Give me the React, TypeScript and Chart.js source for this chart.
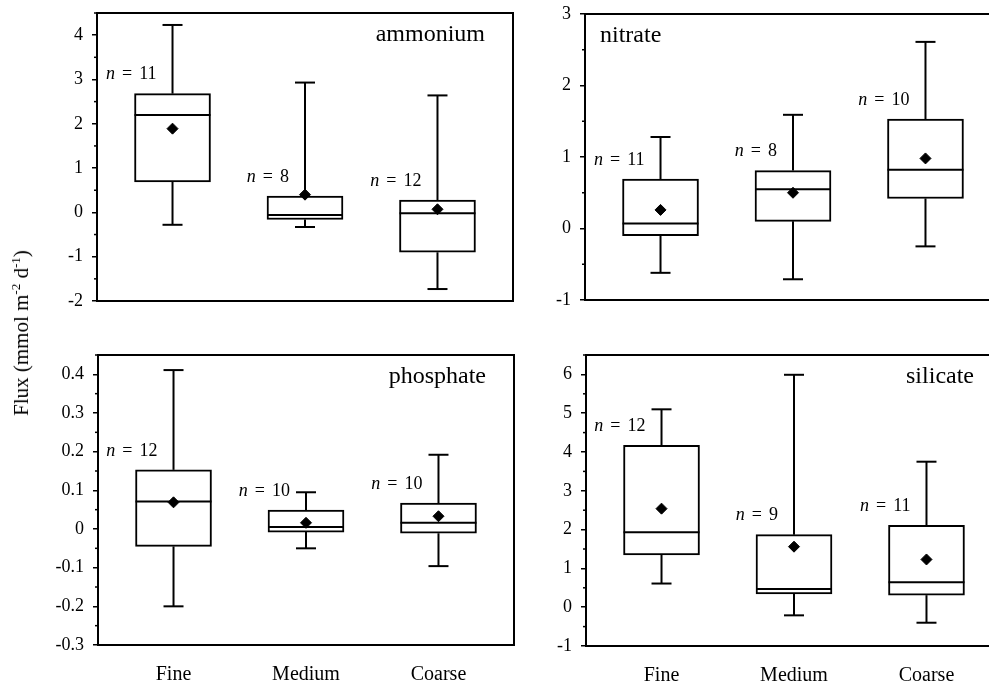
import React, { useEffect, useRef } from "react";
import { Chart, registerables } from "chart.js";

Chart.register(...registerables);

const FONT = '"Liberation Serif", "Times New Roman", Times, serif';
Chart.defaults.font.family = FONT;
Chart.defaults.color = "#000";

const categories = ["Fine", "Medium", "Coarse"];

// ammonium
const ammoniumMax = [4.23, 2.93, 2.64];
const ammoniumQ3 = [2.68, 0.37, 0.28];
const ammoniumMedian = [2.2, -0.06, -0.02];
const ammoniumQ1 = [0.69, -0.16, -0.9];
const ammoniumMin = [-0.28, -0.33, -1.73];
const ammoniumMean = [1.89, 0.4, 0.07];
const ammoniumN = [11, 8, 12];
const ammoniumTicks = [-2, -1, 0, 1, 2, 3, 4];

// nitrate
const nitrateMax = [1.28, 1.59, 2.61];
const nitrateQ3 = [0.69, 0.81, 1.53];
const nitrateMedian = [0.07, 0.55, 0.82];
const nitrateQ1 = [-0.1, 0.1, 0.42];
const nitrateMin = [-0.62, -0.71, -0.25];
const nitrateMean = [0.26, 0.5, 0.98];
const nitrateN = [11, 8, 10];
const nitrateTicks = [-1, 0, 1, 2, 3];

// phosphate
const phosphateMax = [0.411, 0.095, 0.192];
const phosphateQ3 = [0.153, 0.049, 0.067];
const phosphateMedian = [0.071, 0.005, 0.016];
const phosphateQ1 = [-0.045, -0.008, -0.011];
const phosphateMin = [-0.2, -0.05, -0.096];
const phosphateMean = [0.069, 0.016, 0.033];
const phosphateN = [12, 10, 10];
const phosphateTicks = [-0.3, -0.2, -0.1, 0, 0.1, 0.2, 0.3, 0.4];

// silicate
const silicateMax = [5.1, 5.99, 3.75];
const silicateQ3 = [4.17, 1.87, 2.11];
const silicateMedian = [1.93, 0.47, 0.64];
const silicateQ1 = [1.35, 0.34, 0.31];
const silicateMin = [0.61, -0.21, -0.4];
const silicateMean = [2.54, 1.56, 1.23];
const silicateN = [12, 9, 11];
const silicateTicks = [-1, 0, 1, 2, 3, 4, 5, 6];

type Panel = {
  key: string;
  title: string;
  titleAlign: "left" | "right";
  max: number[];
  q3: number[];
  median: number[];
  q1: number[];
  min: number[];
  mean: number[];
  n: number[];
  ticks: number[];
  yMin: number;
  yMax: number;
  left: number;
  top: number;
  w: number;
  h: number;
  padding: { top: number; right: number; bottom: number; left: number };
  yWidth: number;
  showX: boolean;
  xHeight: number;
};

const panels: Panel[] = [
  {
    key: "ammonium", title: "ammonium", titleAlign: "right",
    max: ammoniumMax, q3: ammoniumQ3, median: ammoniumMedian, q1: ammoniumQ1, min: ammoniumMin,
    mean: ammoniumMean, n: ammoniumN, ticks: ammoniumTicks, yMin: -2, yMax: 4.5,
    left: 0, top: 0, w: 530, h: 320, padding: { top: 13, right: 17, bottom: 19, left: 0 },
    yWidth: 97, showX: false, xHeight: 0,
  },
  {
    key: "nitrate", title: "nitrate", titleAlign: "left",
    max: nitrateMax, q3: nitrateQ3, median: nitrateMedian, q1: nitrateQ1, min: nitrateMin,
    mean: nitrateMean, n: nitrateN, ticks: nitrateTicks, yMin: -1, yMax: 3,
    left: 488, top: 0, w: 530, h: 320, padding: { top: 14, right: 17, bottom: 20, left: 0 },
    yWidth: 97, showX: false, xHeight: 0,
  },
  {
    key: "phosphate", title: "phosphate", titleAlign: "right",
    max: phosphateMax, q3: phosphateQ3, median: phosphateMedian, q1: phosphateQ1, min: phosphateMin,
    mean: phosphateMean, n: phosphateN, ticks: phosphateTicks, yMin: -0.3, yMax: 0.45,
    left: 0, top: 330, w: 531, h: 353, padding: { top: 25, right: 17, bottom: 0, left: 0 },
    yWidth: 98, showX: true, xHeight: 38,
  },
  {
    key: "silicate", title: "silicate", titleAlign: "right",
    max: silicateMax, q3: silicateQ3, median: silicateMedian, q1: silicateQ1, min: silicateMin,
    mean: silicateMean, n: silicateN, ticks: silicateTicks, yMin: -1, yMax: 6.5,
    left: 488, top: 330, w: 531, h: 353, padding: { top: 25, right: 17, bottom: 0, left: 0 },
    yWidth: 98, showX: true, xHeight: 37,
  },
];

function fmt(v: number) {
  return String(Number(v.toFixed(2)));
}

function makePlugin(p: Panel) {
  return {
    id: "boxExtras_" + p.key,
    afterDatasetDraw(chart: any, args: any) {
      if (args.index !== 0) return;
      const { ctx } = chart;
      const x = chart.scales.x;
      const y = chart.scales.y;
      ctx.save();
      ctx.strokeStyle = "#000";
      ctx.lineWidth = 2;
      ctx.lineCap = "butt";
      const line = (x1: number, y1: number, x2: number, y2: number) => {
        ctx.beginPath();
        ctx.moveTo(x1, y1);
        ctx.lineTo(x2, y2);
        ctx.stroke();
      };
      categories.forEach((_, i) => {
        const cx = x.getPixelForValue(i + 1);
        const half = 38;
        const cap = 10;
        const yMaxP = y.getPixelForValue(p.max[i]);
        const yQ3 = y.getPixelForValue(p.q3[i]);
        const yQ1 = y.getPixelForValue(p.q1[i]);
        const yMinP = y.getPixelForValue(p.min[i]);
        const yMed = y.getPixelForValue(p.median[i]);
        line(cx, yQ3, cx, yMaxP);
        line(cx - cap, yMaxP, cx + cap, yMaxP);
        line(cx, yQ1, cx, yMinP);
        line(cx - cap, yMinP, cx + cap, yMinP);
        line(cx - half, yMed, cx + half, yMed);
      });
      ctx.restore();
    },
    afterDraw(chart: any) {
      const { ctx, chartArea } = chart;
      const x = chart.scales.x;
      const y = chart.scales.y;
      ctx.save();
      // frame
      ctx.strokeStyle = "#000";
      ctx.lineWidth = 2;
      ctx.strokeRect(chartArea.left, chartArea.top, chartArea.right - chartArea.left, chartArea.bottom - chartArea.top);
      // minor ticks
      ctx.lineWidth = 1.5;
      const t = p.ticks;
      const step = t[1] - t[0];
      const minors: number[] = [];
      for (let i = 0; i < t.length; i++) {
        const m = t[i] + step / 2;
        if (m <= p.yMax + 1e-9) minors.push(m);
      }
      minors.forEach((m) => {
        const py = y.getPixelForValue(m);
        ctx.beginPath();
        ctx.moveTo(chartArea.left - 3, py);
        ctx.lineTo(chartArea.left, py);
        ctx.stroke();
      });
      // title
      ctx.fillStyle = "#000";
      ctx.font = `24px ${FONT}`;
      ctx.textBaseline = "alphabetic";
      if (p.titleAlign === "right") {
        ctx.textAlign = "right";
        ctx.fillText(p.title, chartArea.right - 28, chartArea.top + 28);
      } else {
        ctx.textAlign = "left";
        ctx.fillText(p.title, chartArea.left + 15, chartArea.top + 28);
      }
      // n labels
      ctx.textBaseline = "middle";
      ctx.textAlign = "left";
      categories.forEach((_, i) => {
        const cx = x.getPixelForValue(i + 1);
        const py = y.getPixelForValue(p.q3[i]) - 19;
        const italic = `italic 18px ${FONT}`;
        const normal = `18px ${FONT}`;
        const gap = 7;
        ctx.font = italic;
        const wn = ctx.measureText("n").width;
        ctx.font = normal;
        const we = ctx.measureText("=").width;
        const numStr = String(p.n[i]);
        const wnum = ctx.measureText(numStr).width;
        const total = wn + gap + we + gap + wnum;
        let sx = cx - 16 - total;
        ctx.font = italic;
        ctx.fillText("n", sx, py);
        sx += wn + gap;
        ctx.font = normal;
        ctx.fillText("=", sx, py);
        sx += we + gap;
        ctx.fillText(numStr, sx, py);
      });
      ctx.restore();
    },
  };
}

function buildConfig(p: Panel): any {
  return {
    type: "bar",
    data: {
      datasets: [
        {
          type: "bar",
          order: 2,
          data: categories.map((_, i) => ({ x: i + 1, y: [p.q1[i], p.q3[i]] })),
          backgroundColor: "#fff",
          borderColor: "#000",
          borderWidth: 2,
          borderSkipped: false,
          barThickness: 76,
        },
        {
          type: "scatter",
          order: 1,
          data: categories.map((_, i) => ({ x: i + 1, y: p.mean[i] })),
          pointStyle: "rectRot",
          pointRadius: 5.5,
          backgroundColor: "#000",
          borderColor: "#000",
          borderWidth: 1,
          showLine: false,
        },
      ],
    },
    options: {
      responsive: false,
      animation: false,
      devicePixelRatio: 1,
      layout: { padding: p.padding },
      plugins: { legend: { display: false }, tooltip: { enabled: false } },
      scales: {
        x: {
          type: "linear",
          min: 0.43,
          max: 3.57,
          offset: false,
          display: p.showX,
          afterBuildTicks: (s: any) => {
            s.ticks = categories.map((_, i) => ({ value: i + 1 }));
          },
          afterFit: (s: any) => {
            s.height = p.xHeight;
            s.paddingLeft = 0;
            s.paddingRight = 0;
          },
          grid: { display: false, drawTicks: false },
          border: { display: false },
          ticks: {
            callback: (v: number) => categories[Math.round(v) - 1] ?? "",
            font: { size: 20, family: FONT },
            color: "#000",
            padding: 18,
            autoSkip: false,
            maxRotation: 0,
          },
        },
        y: {
          type: "linear",
          min: p.yMin,
          max: p.yMax,
          afterBuildTicks: (s: any) => {
            s.ticks = p.ticks.map((v) => ({ value: v }));
          },
          afterFit: (s: any) => {
            s.width = p.yWidth;
            s.paddingTop = 0;
            s.paddingBottom = 0;
          },
          grid: {
            display: true,
            drawOnChartArea: false,
            drawTicks: true,
            tickLength: 5,
            color: "#000",
            lineWidth: 1.5,
          },
          border: { display: false },
          ticks: {
            callback: (v: number) => fmt(v),
            font: { size: 18, family: FONT },
            color: "#000",
            padding: 9,
            autoSkip: false,
          },
        },
      },
    },
    plugins: [makePlugin(p)],
  };
}

function PanelChart({ p }: { p: Panel }) {
  const ref = useRef<HTMLCanvasElement | null>(null);
  useEffect(() => {
    if (!ref.current) return;
    const chart = new Chart(ref.current, buildConfig(p));
    return () => chart.destroy();
  }, [p]);
  return (
    <canvas
      ref={ref}
      width={p.w}
      height={p.h}
      style={{ position: "absolute", left: p.left, top: p.top, width: p.w, height: p.h }}
    />
  );
}

export default function App() {
  return (
    <div
      style={{
        position: "absolute",
        left: 0,
        top: 0,
        width: 989,
        height: 683,
        overflow: "hidden",
        background: "#fff",
      }}
    >
      {panels.map((p) => (
        <PanelChart key={p.key} p={p} />
      ))}
      <div
        style={{
          position: "absolute",
          left: 21,
          top: 333,
          transform: "translate(-50%, -50%) rotate(-90deg)",
          fontFamily: FONT,
          fontSize: 21,
          whiteSpace: "nowrap",
          color: "#000",
          lineHeight: "22px",
        }}
      >
        Flux (mmol m<sup style={{ fontSize: 13, lineHeight: 0 }}>-2</sup> d<sup style={{ fontSize: 13, lineHeight: 0 }}>-1</sup>)
      </div>
    </div>
  );
}
